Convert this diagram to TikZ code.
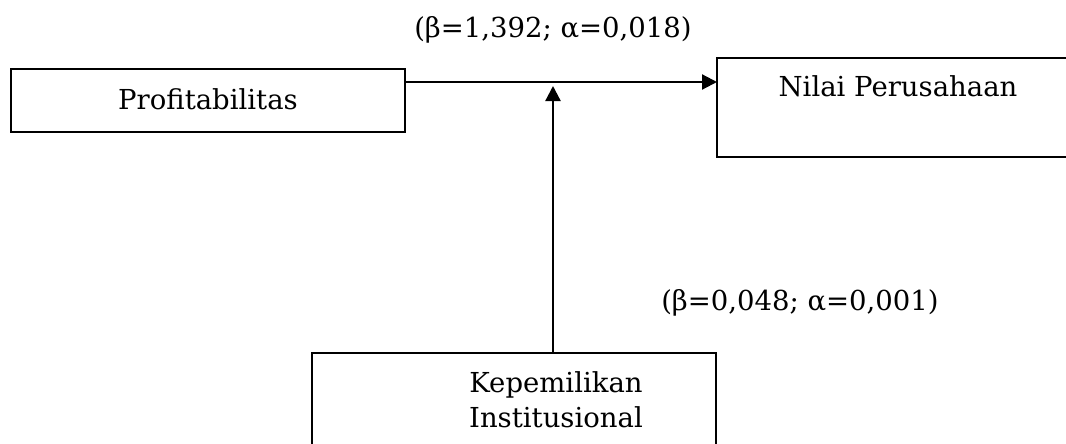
\documentclass[tikz,border=0pt]{standalone}
\usepackage{fontspec}
\setmainfont{DejaVu Serif}
\usetikzlibrary{arrows.meta}
\begin{document}
\begin{tikzpicture}[x=1pt,y=-1pt,
  lbl/.style={font=\fontsize{27.5}{35}\selectfont, inner sep=0pt},
  boxline/.style={draw, line width=2pt},
  conn/.style={line width=2.2pt, -{Triangle[length=15pt,width=15pt]}}]
\useasboundingbox (0,0) rectangle (1066,444);
\begin{scope}
\clip (0,0) rectangle (1066,444);
\draw[boxline] (11,69) rectangle (405,132);
\draw[boxline] (717,58) rectangle (1075,157);
\draw[boxline] (312,353) rectangle (716,460);
\end{scope}
\coordinate (pr) at (405,82);
\coordinate (nl) at (717,82);
\coordinate (kt) at (553,353);
\coordinate (mid) at (553,86);
\node[lbl] (tp) at (208,99) {Profitabilitas};
\node[lbl] (tn) at (898,86) {Nilai Perusahaan};
\node[lbl, align=center] (tk) at (556,400) {Kepemilikan\\Institusional};
\node[lbl] (l1) at (553,30) {(β=1,392; α=0,018)};
\node[lbl] (l2) at (800,303) {(β=0,048; α=0,001)};
\draw[conn] (pr) -- (nl);
\draw[conn] (kt) -- (mid);
\end{tikzpicture}
\end{document}
